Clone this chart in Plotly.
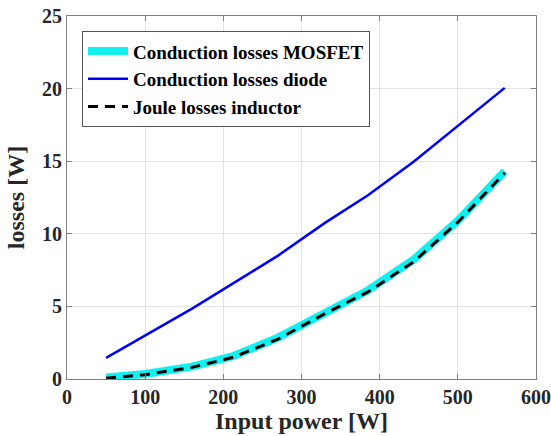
import plotly.graph_objects as go

power = [50, 100, 160, 213, 270, 330, 385, 443, 500, 560]
mosfet = [0.1, 0.35, 0.85, 1.58, 2.85, 4.6, 6.1, 8.2, 10.9, 14.3]
diode = [1.45, 3.0, 4.85, 6.6, 8.5, 10.75, 12.65, 14.95, 17.45, 20.05]
inductor = [0.05, 0.3, 0.8, 1.5, 2.75, 4.5, 6.0, 8.05, 10.8, 14.2]

xticks = [0, 100, 200, 300, 400, 500, 600]
yticks = [0, 5, 10, 15, 20, 25]

fig = go.Figure()
fig.add_trace(go.Scatter(x=power, y=mosfet, mode="lines", name="<b>Conduction losses MOSFET</b>",
                         line=dict(color="#11f0f0", width=8)))
fig.add_trace(go.Scatter(x=power, y=diode, mode="lines", name="<b>Conduction losses diode</b>",
                         line=dict(color="#0000ff", width=2.5)))
fig.add_trace(go.Scatter(x=power, y=inductor, mode="lines", name="<b>Joule losses inductor</b>",
                         line=dict(color="black", width=3, dash="10px,7px")))

font_family = "Liberation Serif"
axis_common = dict(
    showline=True, mirror="ticks", linecolor="#808080", linewidth=1,
    ticks="inside", ticklen=5, tickcolor="#808080",
    showgrid=True, gridcolor="#e3e3e3", gridwidth=1, zeroline=False,
    tickfont=dict(family=font_family, size=20, color="#262626"),
    automargin=False, ticklabeloverflow="allow",
)

fig.update_layout(
    width=551, height=436,
    margin=dict(l=67, r=15, t=16, b=57),
    paper_bgcolor="white", plot_bgcolor="white",
    font=dict(family=font_family, color="#262626"),
    showlegend=True,
    legend=dict(x=0.032, y=0.958, xanchor="left", yanchor="top",
                bgcolor="white", bordercolor="#555555", borderwidth=1,
                font=dict(family=font_family, size=19, color="black"),
                tracegroupgap=0, itemwidth=40),
    xaxis=dict(range=[0, 600], tickvals=xticks, ticktext=[f"<b>{t}</b>" for t in xticks],
               title=dict(text="<b>Input power [W]</b>", font=dict(family=font_family, size=24, color="#262626"), standoff=4),
               **axis_common),
    yaxis=dict(range=[0, 25], tickvals=yticks, ticktext=[f"<b>{t}</b>" for t in yticks],
               title=dict(text="<b>losses [W]</b>", font=dict(family=font_family, size=24, color="#262626"), standoff=10),
               **axis_common),
)

fig.write_html("out.html", config={"displayModeBar": False},
               post_script="document.body.style.margin='0';document.body.style.overflow='hidden';")
